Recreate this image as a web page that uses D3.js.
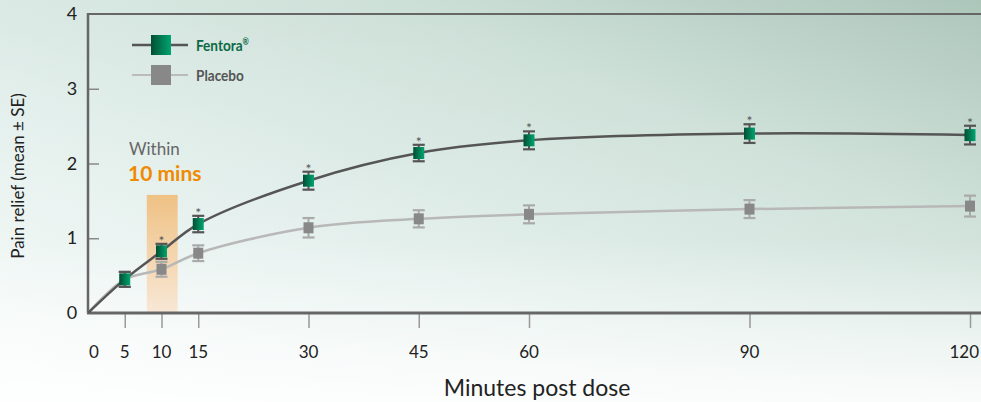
<!DOCTYPE html>
<html lang="en">
<head>
<meta charset="utf-8">
<script src="https://d3js.org/d3.v7.min.js"></script>
<style>
  html, body { margin: 0; padding: 0; }
  body { width: 981px; height: 402px; overflow: hidden; }
  text { font-family: "Lato", "Open Sans", sans-serif; }
</style>
</head>
<body>
<div id="chart"></div>
<script>
// data
var minutes = [5, 10, 15, 30, 45, 60, 90, 120];
var fentora = [0.45, 0.825, 1.19, 1.77, 2.14, 2.31, 2.40, 2.38];
var fentoraSE = [0.10, 0.10, 0.11, 0.12, 0.11, 0.12, 0.125, 0.125];
var placebo = [0.45, 0.585, 0.80, 1.14, 1.26, 1.32, 1.39, 1.43];
var placeboSE = [0.10, 0.10, 0.105, 0.13, 0.115, 0.12, 0.12, 0.14];
var signif = [false, true, true, true, true, true, true, true];
var xTicks = [0, 5, 10, 15, 30, 45, 60, 90, 120];
var yTicks = [0, 1, 2, 3, 4];
var highlight = [8, 12.2, 1.58]; // x0, x1, top (minutes / pain relief)

var W = 981, H = 402;
var svg = d3.select("#chart").append("svg")
    .attr("width", W).attr("height", H);

var defs = svg.append("defs");
var bg = defs.append("linearGradient").attr("id", "bg")
    .attr("x1", "0").attr("y1", "1").attr("x2", "1").attr("y2", "0");
bg.append("stop").attr("offset", "0%").attr("stop-color", "#f7fbfa");
bg.append("stop").attr("offset", "35%").attr("stop-color", "#e4f0ed");
bg.append("stop").attr("offset", "70%").attr("stop-color", "#cde0d8");
bg.append("stop").attr("offset", "100%").attr("stop-color", "#adc6ba");

var bg2 = defs.append("linearGradient").attr("id", "bg2")
    .attr("x1", "0").attr("y1", "0").attr("x2", "0").attr("y2", "1");
bg2.append("stop").attr("offset", "0%").attr("stop-color", "#ffffff").attr("stop-opacity", 0);
bg2.append("stop").attr("offset", "60%").attr("stop-color", "#ffffff").attr("stop-opacity", 0.1);
bg2.append("stop").attr("offset", "100%").attr("stop-color", "#ffffff").attr("stop-opacity", 0.85);

var orange = defs.append("linearGradient").attr("id", "orange")
    .attr("x1", "0").attr("y1", "0").attr("x2", "0").attr("y2", "1");
orange.append("stop").attr("offset", "0%").attr("stop-color", "#efc184");
orange.append("stop").attr("offset", "100%").attr("stop-color", "#f8e8d6");

var green = defs.append("linearGradient").attr("id", "green")
    .attr("x1", "0").attr("y1", "0").attr("x2", "1").attr("y2", "0");
green.append("stop").attr("offset", "0%").attr("stop-color", "#004f33");
green.append("stop").attr("offset", "100%").attr("stop-color", "#00a571");

svg.append("rect").attr("width", W).attr("height", H).attr("fill", "url(#bg)");
svg.append("rect").attr("width", W).attr("height", H).attr("fill", "url(#bg2)");

var x = d3.scaleLinear().domain([0, 120]).range([88, 970]);
var y = d3.scaleLinear().domain([0, 4]).range([313, 14]);

// highlight band
svg.append("rect")
    .attr("x", x(highlight[0]))
    .attr("y", y(highlight[2]))
    .attr("width", x(highlight[1]) - x(highlight[0]))
    .attr("height", y(0) - y(highlight[2]))
    .attr("fill", "url(#orange)");

// frame: top line and left axis
svg.append("line")
    .attr("x1", x(0)).attr("x2", W).attr("y1", y(4)).attr("y2", y(4))
    .attr("stroke", "#666").attr("stroke-width", 2);

// y axis
var yAxis = svg.append("g")
    .attr("transform", "translate(" + x(0) + ",0)")
    .call(d3.axisRight(y).tickValues(yTicks.slice(1, 4)).tickSize(11).tickFormat(""));
yAxis.select(".domain").remove();
yAxis.selectAll(".tick line").attr("stroke", "#888").attr("stroke-width", 1.5);
svg.append("line")
    .attr("x1", x(0)).attr("x2", x(0)).attr("y1", y(4) - 1).attr("y2", y(0))
    .attr("stroke", "#666").attr("stroke-width", 2.5);
svg.selectAll(".ylab").data(yTicks).enter().append("text")
    .attr("class", "ylab")
    .attr("x", 72).attr("y", function(d) { return y(d) + 6; })
    .attr("text-anchor", "middle")
    .attr("font-size", 18).attr("fill", "#222")
    .text(function(d) { return d; });

// x axis
var xAxis = svg.append("g")
    .attr("transform", "translate(0," + y(0) + ")")
    .call(d3.axisBottom(x).tickValues(xTicks.slice(1)).tickSize(15).tickFormat(""));
xAxis.select(".domain").remove();
xAxis.selectAll(".tick line").attr("stroke", "#999").attr("stroke-width", 1.5);
svg.append("line")
    .attr("x1", x(0) - 1).attr("x2", W).attr("y1", y(0)).attr("y2", y(0))
    .attr("stroke", "#666").attr("stroke-width", 3);
svg.selectAll(".xlab").data(xTicks).enter().append("text")
    .attr("class", "xlab")
    .attr("x", function(d) { return d === 0 ? x(d) + 6 : (d === 120 ? W - 2 : x(d)); })
    .attr("y", 358)
    .attr("text-anchor", function(d) { return d === 120 ? "end" : "middle"; })
    .attr("font-size", 17).attr("fill", "#222")
    .text(function(d) { return d; });

svg.append("text")
    .attr("x", 537).attr("y", 396)
    .attr("text-anchor", "middle")
    .attr("font-size", 23).attr("fill", "#222")
    .text("Minutes post dose");

svg.append("text")
    .attr("transform", "translate(24,176) rotate(-90)")
    .attr("text-anchor", "middle")
    .attr("font-size", 17).attr("fill", "#222")
    .text("Pain relief (mean \u00b1 SE)");

// within 10 mins
svg.append("text")
    .attr("x", 129).attr("y", 155)
    .attr("font-size", 17).attr("fill", "#666")
    .text("Within");
svg.append("text")
    .attr("x", 128).attr("y", 181)
    .attr("font-size", 21).attr("font-weight", "bold").attr("fill", "#f08a00")
    .text("10 mins");

// lines
var fData = [[0, 0]].concat(minutes.map(function(m, i) { return [m, fentora[i]]; }));
var pData = [[0, 0]].concat(minutes.map(function(m, i) { return [m, placebo[i]]; }));
var line = d3.line()
    .x(function(d) { return x(d[0]); })
    .y(function(d) { return y(d[1]); })
    .curve(d3.curveCatmullRom.alpha(0.5));

svg.append("path").datum(pData).attr("d", line)
    .attr("fill", "none").attr("stroke", "#b8b8b8").attr("stroke-width", 2.5);

function drawSeries(vals, se, color, fill, size) {
  var g = svg.append("g");
  minutes.forEach(function(m, i) {
    var cx = x(m), top = y(vals[i] + se[i]), bot = y(vals[i] - se[i]);
    g.append("line").attr("x1", cx).attr("x2", cx).attr("y1", top).attr("y2", bot)
        .attr("stroke", color).attr("stroke-width", 2);
    [top, bot].forEach(function(yy) {
      g.append("line").attr("x1", cx - 6).attr("x2", cx + 6).attr("y1", yy).attr("y2", yy)
          .attr("stroke", color).attr("stroke-width", 2.2);
    });
    g.append("rect")
        .attr("x", cx - size / 2).attr("y", y(vals[i]) - size / 2 - 0.5)
        .attr("width", size).attr("height", size + 1)
        .attr("fill", fill);
  });
}

drawSeries(placebo, placeboSE, "#aaaaaa", "#888888", 10);
svg.append("path").datum(fData).attr("d", line)
    .attr("fill", "none").attr("stroke", "#555").attr("stroke-width", 2.5);
drawSeries(fentora, fentoraSE, "#555555", "url(#green)", 11);

// significance asterisks
svg.selectAll(".star").data(minutes.filter(function(m, i) { return signif[i]; })).enter()
  .append("text")
    .attr("class", "star")
    .attr("x", function(m) { return x(m); })
    .attr("y", function(m) { var i = minutes.indexOf(m); return y(fentora[i] + fentoraSE[i]) + 2; })
    .attr("text-anchor", "middle")
    .attr("font-size", 14).attr("fill", "#555")
    .text("*");

// legend
var legend = [["Fentora", "#555", 2.5, "url(#green)", "#0b6a45"], ["Placebo", "#bbb", 2, "#888", "#555"]];
legend.forEach(function(l, i) {
  var ly = 45 + i * 30;
  svg.append("line").attr("x1", 132).attr("x2", 188).attr("y1", ly).attr("y2", ly)
      .attr("stroke", l[1]).attr("stroke-width", l[2]);
  svg.append("rect").attr("x", 151).attr("y", ly - 10).attr("width", 20).attr("height", 20)
      .attr("fill", l[3]);
  var t = svg.append("text").attr("x", 196).attr("y", ly + 6)
      .attr("font-size", 16).attr("font-weight", "bold").attr("fill", l[4])
      .attr("transform", "translate(196," + (ly + 6) + ") scale(0.85,1) translate(-196," + (-(ly + 6)) + ")")
      .text(l[0]);
  if (i === 0) {
    t.append("tspan").attr("dy", -6).attr("font-size", 9).text("\u00ae");
  }
});
</script>
</body>
</html>
